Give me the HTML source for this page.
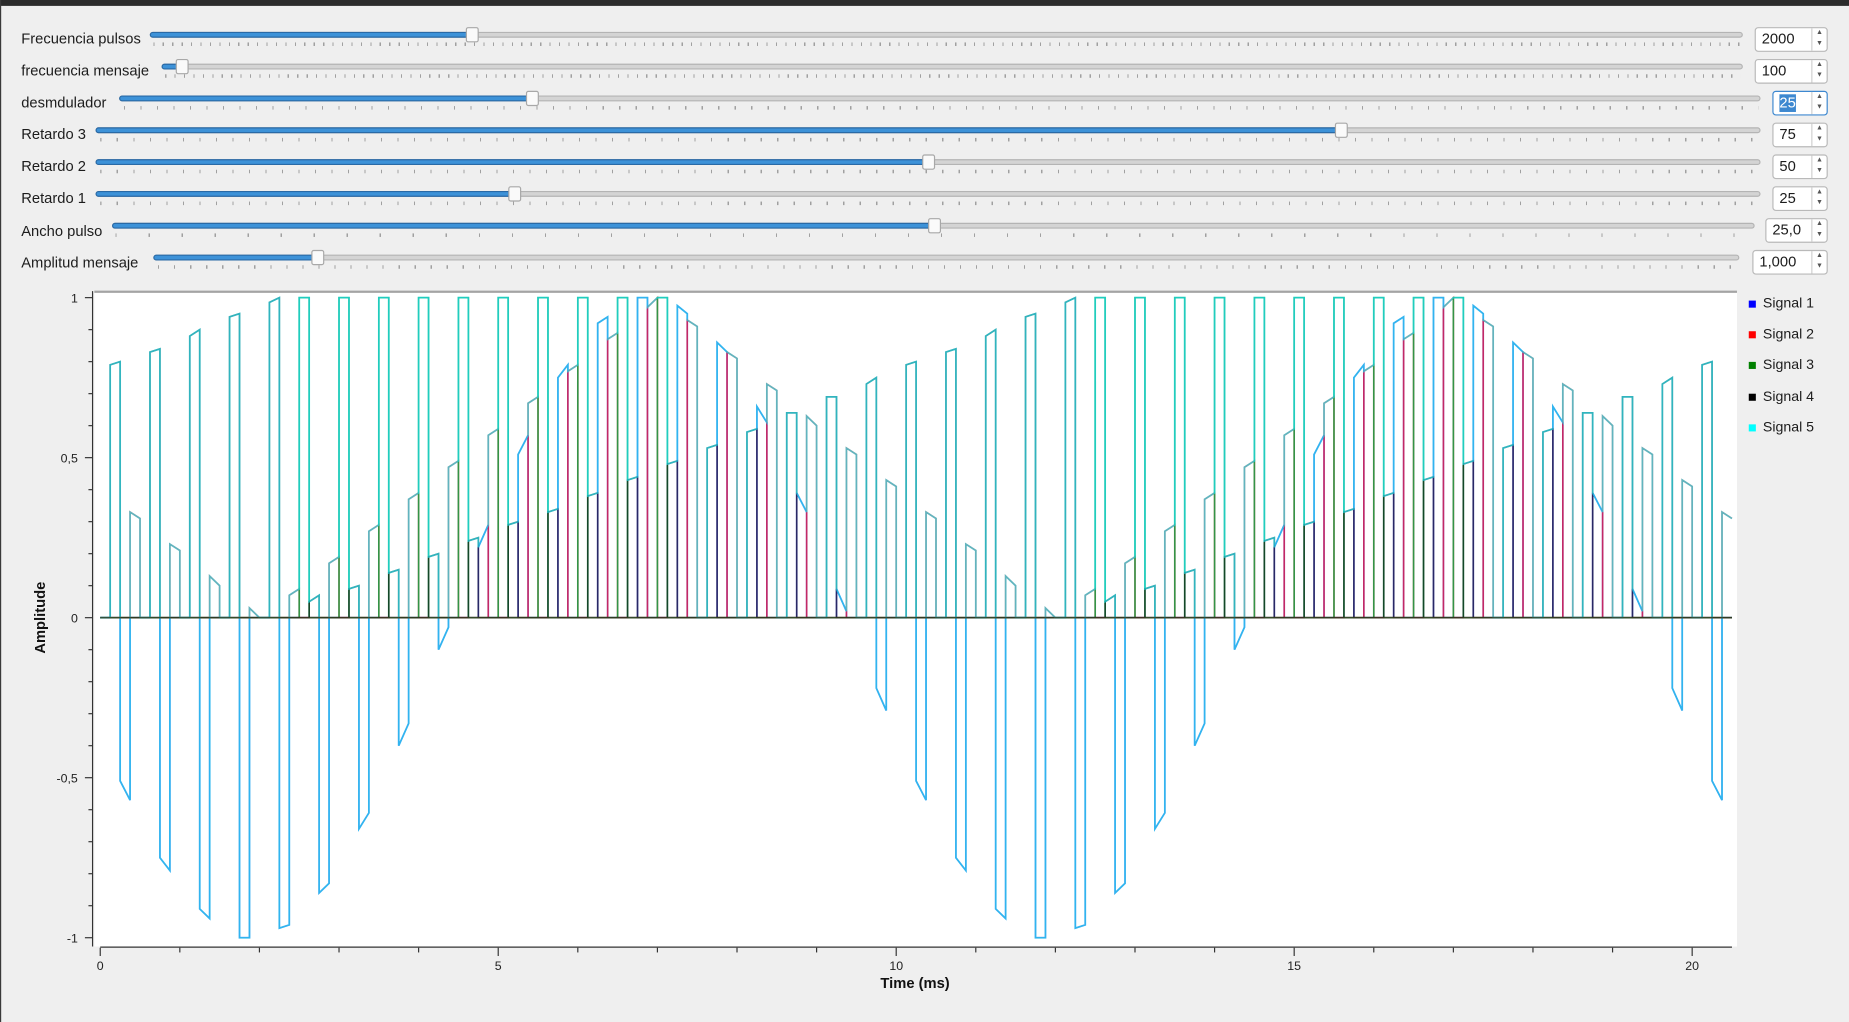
<!DOCTYPE html>
<html><head><meta charset="utf-8">
<style>
html,body{margin:0;padding:0;width:1849px;height:1022px;overflow:hidden;background:#efefef;}
#root{position:absolute;left:0;top:0;width:1568px;height:867px;transform:scale(1.17921,1.17878);transform-origin:0 0;background:#efefef;font-family:"Liberation Sans",sans-serif;color:#1c1c1c;}
.topbar{position:absolute;left:0;top:0;width:1568px;height:5px;background:#2c2c2c;}
.leftbar{position:absolute;left:0;top:0;width:1px;height:867px;background:#3a3a3a;}
.lbl{position:absolute;left:18px;font-size:12.5px;line-height:14px;white-space:nowrap;}
.groove{position:absolute;height:3px;background:#d4d4d4;border:1px solid #b4b4b4;border-radius:3px;}
.fill{position:absolute;height:3px;background:#3d92d8;border:1px solid #2a6aa6;border-radius:3px;}
.ticks{position:absolute;height:3px;}
.handle{position:absolute;width:9px;height:11px;background:#fafafa;border:1px solid #a8a8a8;border-radius:2px;}
.spin{position:absolute;height:19px;width:auto;background:#fff;border:1px solid #b9b9b9;border-radius:3px;font-size:12.5px;}
.spin .v{position:absolute;left:5px;top:2px;line-height:15px;}
.spin .ar{position:absolute;right:0;top:0;width:12px;height:19px;border-left:1px solid #d0d0d0;font-size:6px;color:#555;text-align:center;line-height:9px;}
.legtxt{position:absolute;left:1495px;font-size:12px;}
.legsq{position:absolute;left:1483px;width:6px;height:6px;}
</style></head>
<body>
<div id="root">
<div class="topbar"></div>
<div class="leftbar"></div>

<div>
 <div class="lbl" style="top:26px">Frecuencia pulsos</div>
 <div class="groove" style="left:127px;top:27px;width:1349px"></div>
 <div class="fill" style="left:127px;top:27px;width:273px"></div>
 <div class="ticks" style="left:130px;top:36px;width:1346px;background:repeating-linear-gradient(to right,#a0a0a0 0 1px,transparent 1px 8px)"></div>
 <div class="handle" style="left:395px;top:23px"></div>
 <div class="spin" style="left:1488px;top:23px;width:60px"><span class="v">2000</span><div class="ar">▲<br>▼</div></div>
</div>
<div>
 <div class="lbl" style="top:53px">frecuencia mensaje</div>
 <div class="groove" style="left:137px;top:54px;width:1339px"></div>
 <div class="fill" style="left:137px;top:54px;width:17px"></div>
 <div class="ticks" style="left:140px;top:63px;width:1336px;background:repeating-linear-gradient(to right,#a0a0a0 0 1px,transparent 1px 8px)"></div>
 <div class="handle" style="left:149px;top:50px"></div>
 <div class="spin" style="left:1488px;top:50px;width:60px"><span class="v">100</span><div class="ar">▲<br>▼</div></div>
</div>
<div>
 <div class="lbl" style="top:80px">desmdulador</div>
 <div class="groove" style="left:101px;top:81px;width:1390px"></div>
 <div class="fill" style="left:101px;top:81px;width:350px"></div>
 <div class="ticks" style="left:105px;top:90px;width:1386px;background:repeating-linear-gradient(to right,#a0a0a0 0 1px,transparent 1px 14px)"></div>
 <div class="handle" style="left:446px;top:77px"></div>
 <div class="spin" style="left:1503px;top:77px;width:45px;border-color:#3d88d0"><span class="v" style="background:#3d88d0;color:#fff">25</span><div class="ar">▲<br>▼</div></div>
</div>
<div>
 <div class="lbl" style="top:107px">Retardo 3</div>
 <div class="groove" style="left:81px;top:108px;width:1410px"></div>
 <div class="fill" style="left:81px;top:108px;width:1056px"></div>
 <div class="ticks" style="left:85px;top:117px;width:1406px;background:repeating-linear-gradient(to right,#a0a0a0 0 1px,transparent 1px 14px)"></div>
 <div class="handle" style="left:1132px;top:104px"></div>
 <div class="spin" style="left:1503px;top:104px;width:45px"><span class="v">75</span><div class="ar">▲<br>▼</div></div>
</div>
<div>
 <div class="lbl" style="top:134px">Retardo 2</div>
 <div class="groove" style="left:81px;top:135px;width:1410px"></div>
 <div class="fill" style="left:81px;top:135px;width:706px"></div>
 <div class="ticks" style="left:85px;top:144px;width:1406px;background:repeating-linear-gradient(to right,#a0a0a0 0 1px,transparent 1px 14px)"></div>
 <div class="handle" style="left:782px;top:131px"></div>
 <div class="spin" style="left:1503px;top:131px;width:45px"><span class="v">50</span><div class="ar">▲<br>▼</div></div>
</div>
<div>
 <div class="lbl" style="top:161px">Retardo 1</div>
 <div class="groove" style="left:81px;top:162px;width:1410px"></div>
 <div class="fill" style="left:81px;top:162px;width:355px"></div>
 <div class="ticks" style="left:85px;top:171px;width:1406px;background:repeating-linear-gradient(to right,#a0a0a0 0 1px,transparent 1px 14px)"></div>
 <div class="handle" style="left:431px;top:158px"></div>
 <div class="spin" style="left:1503px;top:158px;width:45px"><span class="v">25</span><div class="ar">▲<br>▼</div></div>
</div>
<div>
 <div class="lbl" style="top:189px">Ancho pulso</div>
 <div class="groove" style="left:95px;top:189px;width:1391px"></div>
 <div class="fill" style="left:95px;top:189px;width:697px"></div>
 <div class="ticks" style="left:98px;top:198px;width:1388px;background:repeating-linear-gradient(to right,#a0a0a0 0 1px,transparent 1px 28px)"></div>
 <div class="handle" style="left:787px;top:185px"></div>
 <div class="spin" style="left:1497px;top:185px;width:51px"><span class="v">25,0</span><div class="ar">▲<br>▼</div></div>
</div>
<div>
 <div class="lbl" style="top:216px">Amplitud mensaje</div>
 <div class="groove" style="left:130px;top:216px;width:1343px"></div>
 <div class="fill" style="left:130px;top:216px;width:139px"></div>
 <div class="ticks" style="left:134px;top:225px;width:1339px;background:repeating-linear-gradient(to right,#a0a0a0 0 1px,transparent 1px 13.6px)"></div>
 <div class="handle" style="left:264px;top:212px"></div>
 <div class="spin" style="left:1486px;top:212px;width:62px"><span class="v">1,000</span><div class="ar">▲<br>▼</div></div>
</div>

<div>
 <div class="legsq" style="top:255px;background:#0000ff"></div><div class="legtxt" style="top:250px">Signal 1</div>
 <div class="legsq" style="top:281px;background:#ff0000"></div><div class="legtxt" style="top:276px">Signal 2</div>
 <div class="legsq" style="top:307px;background:#008000"></div><div class="legtxt" style="top:302px">Signal 3</div>
 <div class="legsq" style="top:334px;background:#000000"></div><div class="legtxt" style="top:329px">Signal 4</div>
 <div class="legsq" style="top:360px;background:#00ffff"></div><div class="legtxt" style="top:355px">Signal 5</div>
</div>

<svg id="plot" width="1568" height="867" style="position:absolute;left:0;top:0"></svg>
</div>

<script>
const slotWidthMs = 0.125;
const vStart = [
0,.79,-.51,.33, 0,.83,-.75,.23, 0,.88,-.91,.13, 0,.94,-1,.03, 0,.985,-.97,.07,
1,.05,-.86,.17, 1,.09,-.66,.27, 1,.14,-.40,.37, 1,.19,-.10,.47, 1,.24,.22,.57,
1,.29,.51,.67, 1,.33,.75,.77, 1,.38,.92,.87, 1,.43,1,.97, 1,.48,.975,.93,
0,.53,.86,.83, 0,.58,.66,.73, 0,.64,.39,.63, 0,.69,.09,.53, 0,.73,-.22,.43,
0,.79,-.51,.33, 0,.83,-.75,.23, 0,.88,-.91,.13, 0,.94,-1,.03, 0,.985,-.97,.07,
1,.05,-.86,.17, 1,.09,-.66,.27, 1,.14,-.40,.37, 1,.19,-.10,.47, 1,.24,.22,.57,
1,.29,.51,.67, 1,.33,.75,.77, 1,.38,.92,.87, 1,.43,1,.97, 1,.48,.975,.93,
0,.53,.86,.83, 0,.58,.66,.73, 0,.64,.39,.63, 0,.69,.09,.53, 0,.73,-.22,.43,
0,.79,-.51,.33];
const vEnd = [
0,.80,-.57,.31, 0,.84,-.79,.21, 0,.90,-.94,.10, 0,.95,-1,0, 0,1,-.96,.09,
1,.07,-.83,.19, 1,.10,-.61,.29, 1,.15,-.33,.39, 1,.20,-.03,.49, 1,.25,.29,.59,
1,.30,.57,.69, 1,.34,.79,.79, 1,.39,.94,.89, 1,.44,1,1, 1,.49,.95,.91,
0,.54,.83,.81, 0,.59,.61,.71, 0,.64,.33,.60, 0,.69,.02,.51, 0,.75,-.29,.41,
0,.80,-.57,.31, 0,.84,-.79,.21, 0,.90,-.94,.10, 0,.95,-1,0, 0,1,-.96,.09,
1,.07,-.83,.19, 1,.10,-.61,.29, 1,.15,-.33,.39, 1,.20,-.03,.49, 1,.25,.29,.59,
1,.30,.57,.69, 1,.34,.79,.79, 1,.39,.94,.89, 1,.44,1,1, 1,.49,.95,.91,
0,.54,.83,.81, 0,.59,.61,.71, 0,.64,.33,.60, 0,.69,.02,.51, 0,.75,-.29,.41,
0,.80,-.57,.31];
const slotOwner = [3, 4, 1, 2];
const seriesNames = ["Signal 1","Signal 2","Signal 3","Signal 4","Signal 5"];
const xTickValues = [0,5,10,15,20];
const xTickLabels = ["0","5","10","15","20"];
const yTickValues = [1,0.5,0,-0.5,-1];
const yTickLabels = ["1","0,5","0","-0,5","-1"];
const xMax = 20.5;

const NS = "http://www.w3.org/2000/svg";
const svg = document.getElementById('plot');
const L = 80, R = 1473, T = 247, B = 803;
function X(t){ return 85 + 67.5 * t; }
function Y(v){ return 524 - 271.5 * v; }
function mk(tag, attrs, parent){ const e = document.createElementNS(NS, tag); for (const k in attrs) e.setAttribute(k, attrs[k]); (parent||svg).appendChild(e); return e; }

const canvas = mk('rect', {x:L, y:T, width:R-L, height:B-T, fill:'#ffffff'});


const frameTop = mk('line', {x1:L, y1:T+0.5, x2:R, y2:T+0.5, stroke:'#a4a4a4', 'stroke-width':2});



const clip = mk('clipPath', {id:'cp'});
mk('rect', {x:L, y:T+1, width:R-L, height:B-T-1}, clip);

function seriesPoints(filterIdx){
  const pts = [];
  for (let j = 0; j < vStart.length; j++){
    const own = slotOwner[j % 4];
    const use = (filterIdx === 5 || own === filterIdx);
    const t0 = j * slotWidthMs, t1 = Math.min((j + 1) * slotWidthMs, xMax);
    const a = use ? vStart[j] : 0, b = use ? vEnd[j] : 0;
    pts.push(X(t0).toFixed(2) + ',' + Y(a).toFixed(2));
    pts.push(X(t1).toFixed(2) + ',' + Y(b).toFixed(2));
  }
  return pts.join(' ');
}
const g = mk('g', {'clip-path':'url(#cp)'});


const colors = {1:'#0000ff', 2:'#ff0000', 3:'#00a040', 4:'#000000', 5:'#18d8e8'};
const opac = {1:0.6, 2:0.6, 3:0.8, 4:0.6};
const order = [1, 2, 3, 4];
order.forEach(function(i){
  const p = mk('polyline', {points:seriesPoints(i), fill:'none', stroke:colors[i], 'stroke-width':1.4, 'stroke-opacity':opac[i], 'stroke-linejoin':'miter'}, g);
  
  
});
const s5 = mk('polyline', {points:seriesPoints(5), fill:'none', stroke:colors[5], 'stroke-width':1.5, 'stroke-opacity':0.68}, g);


const zl = mk('line', {x1:X(0), y1:Y(0), x2:X(xMax), y2:Y(0), stroke:'#3a3a22', 'stroke-width':1.4, 'stroke-opacity':0.8}, g);



const yAxis = mk('line', {x1:78.5, y1:T, x2:78.5, y2:B, stroke:'#333', 'stroke-width':1});


for (let k = -10; k <= 10; k++){
  const v = k / 10, major = (k % 5 === 0);
  const tk = mk('line', {x1:major?72:75, y1:Y(v), x2:78, y2:Y(v), stroke:'#333', 'stroke-width':1});
  
  
}
yTickValues.forEach(function(v, i){
  const tx = mk('text', {x:66, y:Y(v)+4, 'text-anchor':'end', 'font-size':'10.5', 'font-family':'Liberation Sans, sans-serif', fill:'#222'});
  tx.textContent = yTickLabels[i];
  
  
});
const yt = mk('text', {x:0, y:0, transform:'translate(38,524) rotate(-90)', 'text-anchor':'middle', 'font-size':'12.5', 'font-weight':'bold', 'font-family':'Liberation Sans, sans-serif', fill:'#111'});
yt.textContent = 'Amplitude';



const xAxis = mk('line', {x1:X(0), y1:803.5, x2:X(xMax), y2:803.5, stroke:'#333', 'stroke-width':1});


for (let k = 0; k <= 20; k++){
  const major = (k % 5 === 0);
  const tk = mk('line', {x1:X(k), y1:804, x2:X(k), y2:major?811:808, stroke:'#333', 'stroke-width':1});
  
  
}
xTickValues.forEach(function(v, i){
  const tx = mk('text', {x:X(v), y:823, 'text-anchor':'middle', 'font-size':'10.5', 'font-family':'Liberation Sans, sans-serif', fill:'#222'});
  tx.textContent = xTickLabels[i];
  
  
});
const xt = mk('text', {x:776, y:838, 'text-anchor':'middle', 'font-size':'12.5', 'font-weight':'bold', 'font-family':'Liberation Sans, sans-serif', fill:'#111'});
xt.textContent = 'Time (ms)';


</script>
</body></html>
